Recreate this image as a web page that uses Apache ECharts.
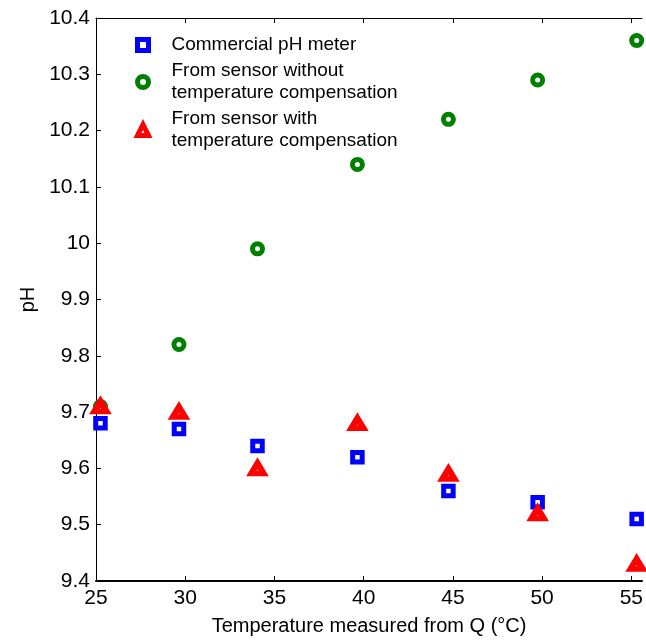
<!DOCTYPE html>
<html>
<head>
<meta charset="utf-8">
<script src="https://cdn.jsdelivr.net/npm/echarts@6/dist/echarts.min.js"></script>
<style>
  html, body { margin: 0; padding: 0; background: #fff; }
  #chart { width: 646px; height: 641px; }
</style>
</head>
<body>
<div id="chart"></div>
<script>
// Temperature readings (°C) taken from Q
const temperature = [25.25, 29.65, 34.05, 39.65, 44.75, 49.75, 55.3];
// pH values
const commercialMeter = [9.68, 9.67, 9.64, 9.62, 9.56, 9.54, 9.51];
const sensorNoComp = [9.71, 9.82, 9.99, 10.14, 10.22, 10.29, 10.36];
const sensorWithComp = [9.71, 9.70, 9.60, 9.68, 9.59, 9.52, 9.43];
// Axis tick labels
const xTicks = [25, 30, 35, 40, 45, 50, 55];
const yTicks = [9.4, 9.5, 9.6, 9.7, 9.8, 9.9, 10, 10.1, 10.2, 10.3, 10.4];

const FONT = 'Liberation Sans';
const pairs = (ys) => temperature.map((t, i) => [t, ys[i]]);

const chart = echarts.init(document.getElementById('chart'), null, { renderer: 'canvas' });

const tickStyle = { show: true, inside: true, length: 5, lineStyle: { color: '#000', width: 1 } };

chart.setOption({
  animation: false,
  backgroundColor: '#fff',
  grid: { left: 96, top: 18, right: 0, bottom: 59, containLabel: false },
  legend: {
    orient: 'vertical',
    left: 135,
    top: 34,
    padding: 0,
    itemGap: 4,
    itemWidth: 11,
    itemHeight: 11,
    itemStyle: { borderWidth: 5 },
    textStyle: { fontFamily: FONT, fontSize: 19, lineHeight: 22, color: '#000', padding: [0, 0, 0, 18] },
    data: [
      'Commercial pH meter',
      'From sensor without\ntemperature compensation',
      'From sensor with\ntemperature compensation'
    ]
  },
  xAxis: [
    {
      type: 'value', position: 'bottom', min: 25, max: 55.6,
      name: 'Temperature measured from Q (°C)',
      nameLocation: 'middle', nameGap: 35,
      nameTextStyle: { fontFamily: FONT, fontSize: 20, color: '#000' },
      axisLine: { show: true, onZero: false, lineStyle: { color: '#000', width: 2 } },
      axisTick: Object.assign({ customValues: xTicks }, tickStyle),
      axisLabel: { customValues: xTicks, fontFamily: FONT, fontSize: 21, color: '#000', margin: 7 },
      splitLine: { show: false }
    },
    {
      type: 'value', position: 'top', min: 25, max: 55.6,
      axisLine: { show: true, onZero: false, lineStyle: { color: '#000', width: 1 } },
      axisTick: Object.assign({ customValues: xTicks }, tickStyle),
      axisLabel: { show: false },
      splitLine: { show: false }
    }
  ],
  yAxis: {
    type: 'value', min: 9.4, max: 10.4,
    name: 'pH', nameLocation: 'middle', nameGap: 58,
    nameTextStyle: { fontFamily: FONT, fontSize: 20, color: '#000' },
    axisLine: { show: true, onZero: false, lineStyle: { color: '#000', width: 1 } },
    axisTick: Object.assign({ customValues: yTicks }, tickStyle),
    axisLabel: {
      customValues: yTicks, fontFamily: FONT, fontSize: 21, color: '#000', margin: 6,
      formatter: (v) => String(Math.round(v * 10) / 10)
    },
    splitLine: { show: false }
  },
  series: [
    {
      name: 'Commercial pH meter', type: 'scatter', data: pairs(commercialMeter),
      symbol: 'rect', symbolSize: 9.5, z: 3,
      itemStyle: { color: '#fff', borderColor: '#0000ff', borderWidth: 5, opacity: 1 }
    },
    {
      name: 'From sensor without\ntemperature compensation', type: 'scatter', data: pairs(sensorNoComp),
      symbol: 'circle', symbolSize: 10, z: 2,
      itemStyle: { color: '#fff', borderColor: '#008000', borderWidth: 5, opacity: 1 }
    },
    {
      name: 'From sensor with\ntemperature compensation', type: 'scatter', data: pairs(sensorWithComp),
      symbol: 'triangle', symbolSize: [12, 10], z: 4,
      itemStyle: { color: '#fff', borderColor: '#ff0000', borderWidth: 6, opacity: 1 }
    }
  ]
});
</script>
</body>
</html>
